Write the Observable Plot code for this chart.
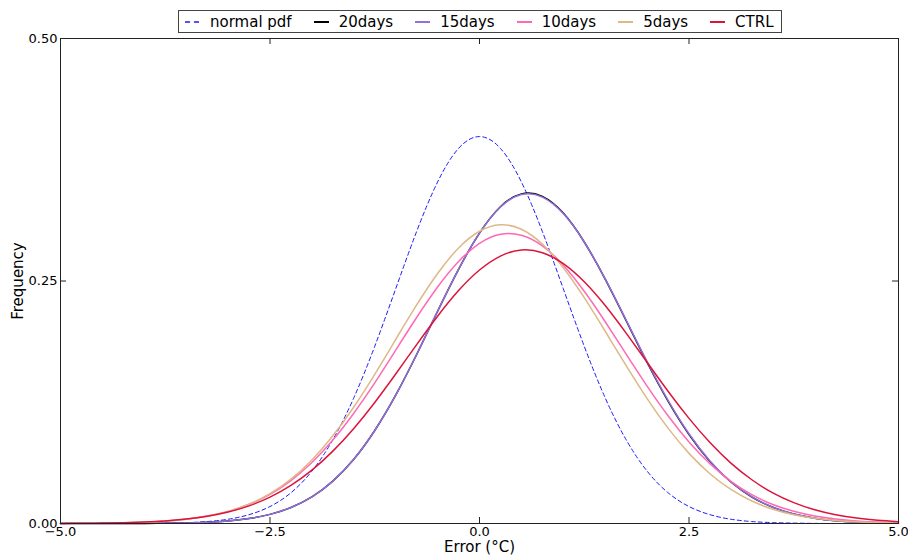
<!DOCTYPE html>
<html>
<head>
<meta charset="utf-8">
<script src="https://cdn.jsdelivr.net/npm/d3@7"></script>
<script src="https://cdn.jsdelivr.net/npm/@observablehq/plot@0.6"></script>
<style>
  html, body { margin: 0; padding: 0; background: #fff; }
  #wrap { position: relative; width: 908px; height: 558px; font-family: "DejaVu Sans", sans-serif; }
  #legend { position: absolute; left: 178px; top: 10px; width: 596px; height: 21px; border: 1px solid #444;
            background: #fff; display: flex; align-items: center; padding-left: 6px; box-sizing: content-box;
            font-size: 15px; color: #000; white-space: nowrap; }
  #legend .item { display: flex; align-items: center; margin-right: 22px; flex: none; white-space: nowrap; }
  #legend svg { margin-right: 10px; flex: none; }
</style>
</head>
<body>
<div id="wrap">
  <div id="chart"></div>
  <div id="legend"></div>
</div>
<script>
const errorX = [-5,-4.75,-4.5,-4.25,-4,-3.75,-3.5,-3.25,-3,-2.75,-2.5,-2.25,-2,-1.75,-1.5,-1.25,-1,-0.75,-0.5,-0.25,0,0.25,0.5,0.75,1,1.25,1.5,1.75,2,2.25,2.5,2.75,3,3.25,3.5,3.75,4,4.25,4.5,4.75,5];

const normalPdf = [0.0000,0.0000,0.0000,0.0000,0.0001,0.0004,0.0009,0.0020,0.0044,0.0091,0.0175,0.0317,0.0540,0.0863,0.1295,0.1827,0.2420,0.3011,0.3521,0.3867,0.3989,0.3867,0.3521,0.3011,0.2420,0.1827,0.1295,0.0863,0.0540,0.0317,0.0175,0.0091,0.0044,0.0020,0.0009,0.0004,0.0001,0.0000,0.0000,0.0000,0.0000];

const days20 = [0.0000,0.0000,0.0000,0.0001,0.0001,0.0003,0.0006,0.0013,0.0027,0.0051,0.0094,0.0165,0.0274,0.0437,0.0662,0.0959,0.1323,0.1742,0.2188,0.2620,0.2994,0.3266,0.3398,0.3372,0.3200,0.2902,0.2520,0.2092,0.1660,0.1262,0.0918,0.0640,0.0428,0.0273,0.0167,0.0098,0.0055,0.0029,0.0015,0.0007,0.0003];

const days15 = [0.0000,0.0000,0.0000,0.0001,0.0001,0.0003,0.0006,0.0013,0.0027,0.0051,0.0094,0.0165,0.0274,0.0437,0.0662,0.0959,0.1323,0.1742,0.2188,0.2620,0.2994,0.3263,0.3392,0.3365,0.3195,0.2902,0.2522,0.2097,0.1668,0.1270,0.0925,0.0645,0.0430,0.0274,0.0168,0.0098,0.0055,0.0029,0.0015,0.0007,0.0003];

const days10 = [0.0001,0.0002,0.0004,0.0008,0.0014,0.0026,0.0045,0.0077,0.0125,0.0198,0.0301,0.0442,0.0628,0.0860,0.1137,0.1450,0.1787,0.2124,0.2438,0.2701,0.2888,0.2982,0.2971,0.2862,0.2663,0.2394,0.2080,0.1746,0.1417,0.1111,0.0841,0.0616,0.0435,0.0298,0.0196,0.0126,0.0077,0.0046,0.0027,0.0015,0.0008];

const days5 = [0.0001,0.0002,0.0003,0.0007,0.0013,0.0024,0.0043,0.0074,0.0124,0.0199,0.0307,0.0457,0.0655,0.0904,0.1201,0.1538,0.1897,0.2253,0.2577,0.2840,0.3013,0.3080,0.3033,0.2880,0.2637,0.2328,0.1982,0.1627,0.1288,0.0983,0.0723,0.0513,0.0351,0.0232,0.0147,0.0090,0.0053,0.0031,0.0017,0.0009,0.0005];

const ctrl = [0.0001,0.0002,0.0005,0.0009,0.0016,0.0027,0.0046,0.0075,0.0119,0.0182,0.0272,0.0393,0.0550,0.0746,0.0980,0.1248,0.1541,0.1844,0.2137,0.2401,0.2613,0.2757,0.2820,0.2792,0.2680,0.2493,0.2248,0.1963,0.1662,0.1363,0.1084,0.0835,0.0623,0.0451,0.0316,0.0215,0.0141,0.0090,0.0056,0.0033,0.0019];

const seriesNames = ["normal pdf", "20days", "15days", "10days", "5days", "CTRL"];
const seriesValues = [normalPdf, days20, days15, days10, days5, ctrl];
const seriesColors = ["#1a1aff", "#000000", "#9370db", "#ff69b4", "#deb887", "#dc143c"];
const seriesDash = ["4,3", null, null, null, null, null];
const seriesWidth = [1, 1.5, 1.5, 1.5, 1.5, 1.5];

const xTicks = [-5, -2.5, 0, 2.5, 5];
const xTickLabels = ["\u22125.0", "\u22122.5", "0.0", "2.5", "5.0"];
const yTicks = [0, 0.25, 0.5];
const yTickLabels = ["0.00", "0.25", "0.50"];

const W = 908, H = 558, mL = 60, mR = 10, mT = 38, mB = 35;
const innerW = W - mL - mR, innerH = H - mT - mB, tickLen = 6;

const lineMarks = seriesNames.map((name, i) => {
  const rows = errorX.map((x, j) => ({x, y: seriesValues[i][j]}));
  return Plot.line(rows, {
    x: "x", y: "y", curve: "natural",
    stroke: seriesColors[i], strokeWidth: seriesWidth[i],
    strokeDasharray: seriesDash[i] || undefined
  });
});

const chart = Plot.plot({
  width: W, height: H,
  marginLeft: mL, marginRight: mR, marginTop: mT, marginBottom: mB,
  style: {fontFamily: "DejaVu Sans, sans-serif", fontSize: "13px", color: "#000", background: "#fff", overflow: "visible"},
  x: {domain: [-5, 5]},
  y: {domain: [0, 0.5]},
  marks: [
    ...lineMarks,
    Plot.frame({stroke: "#222", strokeWidth: 1}),
    Plot.tickX(xTicks, {x: d => d, insetTop: innerH - tickLen, stroke: "#222"}),
    Plot.tickX(xTicks, {x: d => d, insetBottom: innerH - tickLen, stroke: "#222"}),
    Plot.tickY(yTicks, {y: d => d, insetRight: innerW - tickLen, stroke: "#222"}),
    Plot.tickY(yTicks, {y: d => d, insetLeft: innerW - tickLen, stroke: "#222"}),
    Plot.axisX(xTicks, {tickSize: 0, tickPadding: 3, tickFormat: (d, i) => xTickLabels[i], label: null, fontSize: 13}),
    Plot.axisY(yTicks, {tickSize: 0, tickPadding: 3, tickFormat: (d, i) => yTickLabels[i], label: null, fontSize: 13}),
    Plot.text(["Error (\u00b0C)"], {frameAnchor: "bottom", dy: 24, text: d => d, fontSize: 15, lineAnchor: "middle"}),
    Plot.text(["Frequency"], {frameAnchor: "left", dx: -42, rotate: -90, text: d => d, fontSize: 15, textAnchor: "middle", lineAnchor: "middle"})
  ]
});
document.getElementById("chart").appendChild(chart);

const legend = document.getElementById("legend");
seriesNames.forEach((name, i) => {
  const item = document.createElement("div");
  item.className = "item";
  const dash = seriesDash[i] ? ` stroke-dasharray="5,4"` : "";
  item.innerHTML = `<svg width="15" height="10"><line x1="0" y1="5" x2="15" y2="5" stroke="${seriesColors[i]}" stroke-width="${seriesWidth[i] + 0.5}"${dash}/></svg><span>${name}</span>`;
  legend.appendChild(item);
});
</script>
</body>
</html>
